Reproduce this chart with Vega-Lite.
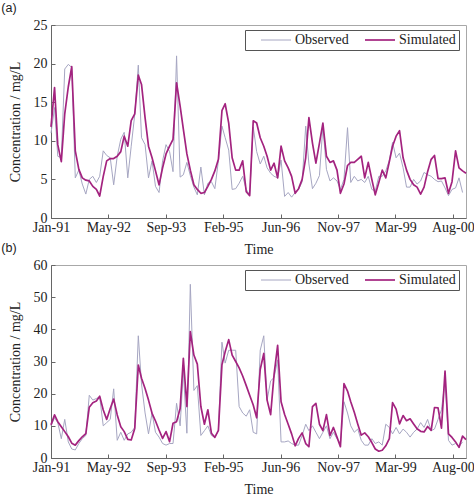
{
"$schema": "https://vega.github.io/schema/vega-lite/v6.json",
"background": "white",
"padding": {"left": 0, "top": 1, "right": 0, "bottom": 0},
"spacing": -16,
"config": {
  "font": "Liberation Serif",
  "view": {"stroke": "#a8a8a8", "strokeWidth": 1},
  "axis": {"labelFont": "Liberation Serif", "labelFontSize": 14, "labelColor": "#222", "titleFont": "Liberation Serif", "titleFontSize": 14, "titleFontWeight": "normal", "titleColor": "#222", "domainColor": "#666", "tickColor": "#666", "tickSize": -4, "grid": false, "labelFlush": false, "labelOverlap": false},
  "axisX": {"labelPadding": 6, "titlePadding": 8},
  "axisY": {"labelPadding": 8, "titlePadding": 10.7},
  "legend": {"orient": "none", "legendX": 194, "legendY": 5, "direction": "horizontal", "strokeColor": "#555", "fillColor": "white", "padding": 3, "symbolType": "M1,0H6", "symbolSize": 144, "symbolStrokeWidth": 1.6, "labelFont": "Liberation Serif", "labelFontSize": 14, "labelColor": "#222", "labelOffset": 33, "columnPadding": 3, "title": null},
  "title": {"font": "Liberation Sans", "fontSize": 12.5, "fontWeight": "normal", "anchor": "start", "offset": 3.5, "dx": -7, "color": "#222"}
},
"datasets": {
"a": [
{"d":"1991-01-01","s":"Observed","v":11},{"d":"1991-02-01","s":"Observed","v":14.3},{"d":"1991-03-01","s":"Observed","v":8},{"d":"1991-04-01","s":"Observed","v":7.8},{"d":"1991-05-01","s":"Observed","v":19.3},{"d":"1991-06-01","s":"Observed","v":19.9},{"d":"1991-07-01","s":"Observed","v":19.5},{"d":"1991-08-01","s":"Observed","v":5.2},{"d":"1991-09-01","s":"Observed","v":6.2},{"d":"1991-10-01","s":"Observed","v":4.4},{"d":"1991-11-01","s":"Observed","v":3.1},{"d":"1991-12-01","s":"Observed","v":5},
{"d":"1992-01-01","s":"Observed","v":5.4},{"d":"1992-02-01","s":"Observed","v":4.6},{"d":"1992-03-01","s":"Observed","v":5.4},{"d":"1992-04-01","s":"Observed","v":8.7},{"d":"1992-05-01","s":"Observed","v":8.1},{"d":"1992-06-01","s":"Observed","v":7.8},{"d":"1992-07-01","s":"Observed","v":4.3},{"d":"1992-08-01","s":"Observed","v":8},{"d":"1992-09-01","s":"Observed","v":10.2},{"d":"1992-10-01","s":"Observed","v":11.1},{"d":"1992-11-01","s":"Observed","v":5.2},{"d":"1992-12-01","s":"Observed","v":9.3},
{"d":"1993-01-01","s":"Observed","v":13.4},{"d":"1993-02-01","s":"Observed","v":19.8},{"d":"1993-03-01","s":"Observed","v":10.4},{"d":"1993-04-01","s":"Observed","v":9.5},{"d":"1993-05-01","s":"Observed","v":5.2},{"d":"1993-06-01","s":"Observed","v":7.4},{"d":"1993-07-01","s":"Observed","v":4.1},{"d":"1993-08-01","s":"Observed","v":3.3},{"d":"1993-09-01","s":"Observed","v":7.4},{"d":"1993-10-01","s":"Observed","v":9.5},{"d":"1993-11-01","s":"Observed","v":8.6},{"d":"1993-12-01","s":"Observed","v":6},
{"d":"1994-01-01","s":"Observed","v":21},{"d":"1994-02-01","s":"Observed","v":5.3},{"d":"1994-03-01","s":"Observed","v":5.6},{"d":"1994-04-01","s":"Observed","v":7.2},{"d":"1994-05-01","s":"Observed","v":5.5},{"d":"1994-06-01","s":"Observed","v":4},{"d":"1994-07-01","s":"Observed","v":3},{"d":"1994-08-01","s":"Observed","v":6.6},{"d":"1994-09-01","s":"Observed","v":3},{"d":"1994-10-01","s":"Observed","v":4.5},{"d":"1994-11-01","s":"Observed","v":4.7},{"d":"1994-12-01","s":"Observed","v":3.8},
{"d":"1995-01-01","s":"Observed","v":7.4},{"d":"1995-02-01","s":"Observed","v":11.9},{"d":"1995-03-01","s":"Observed","v":10.4},{"d":"1995-04-01","s":"Observed","v":8.8},{"d":"1995-05-01","s":"Observed","v":3.7},{"d":"1995-06-01","s":"Observed","v":3.8},{"d":"1995-07-01","s":"Observed","v":4.5},{"d":"1995-08-01","s":"Observed","v":5.4},{"d":"1995-09-01","s":"Observed","v":3.7},{"d":"1995-10-01","s":"Observed","v":3},{"d":"1995-11-01","s":"Observed","v":11.8},{"d":"1995-12-01","s":"Observed","v":8.6},
{"d":"1996-01-01","s":"Observed","v":7},{"d":"1996-02-01","s":"Observed","v":8},{"d":"1996-03-01","s":"Observed","v":6.5},{"d":"1996-04-01","s":"Observed","v":5.8},{"d":"1996-05-01","s":"Observed","v":5.4},{"d":"1996-06-01","s":"Observed","v":5.2},{"d":"1996-07-01","s":"Observed","v":7.5},{"d":"1996-08-01","s":"Observed","v":2.8},{"d":"1996-09-01","s":"Observed","v":3.3},{"d":"1996-10-01","s":"Observed","v":2.7},{"d":"1996-11-01","s":"Observed","v":3.3},{"d":"1996-12-01","s":"Observed","v":3.7},
{"d":"1997-01-01","s":"Observed","v":4.7},{"d":"1997-02-01","s":"Observed","v":11.9},{"d":"1997-03-01","s":"Observed","v":7},{"d":"1997-04-01","s":"Observed","v":3.8},{"d":"1997-05-01","s":"Observed","v":4.5},{"d":"1997-06-01","s":"Observed","v":5.5},{"d":"1997-07-01","s":"Observed","v":11.9},{"d":"1997-08-01","s":"Observed","v":6.3},{"d":"1997-09-01","s":"Observed","v":4.8},{"d":"1997-10-01","s":"Observed","v":5.2},{"d":"1997-11-01","s":"Observed","v":4.8},{"d":"1997-12-01","s":"Observed","v":3.7},
{"d":"1998-01-01","s":"Observed","v":5},{"d":"1998-02-01","s":"Observed","v":11.7},{"d":"1998-03-01","s":"Observed","v":4.6},{"d":"1998-04-01","s":"Observed","v":5.4},{"d":"1998-05-01","s":"Observed","v":4.8},{"d":"1998-06-01","s":"Observed","v":5},{"d":"1998-07-01","s":"Observed","v":4.6},{"d":"1998-08-01","s":"Observed","v":5.4},{"d":"1998-09-01","s":"Observed","v":3.7},{"d":"1998-10-01","s":"Observed","v":3.5},{"d":"1998-11-01","s":"Observed","v":5.4},{"d":"1998-12-01","s":"Observed","v":5.4},
{"d":"1999-01-01","s":"Observed","v":6.1},{"d":"1999-02-01","s":"Observed","v":7.5},{"d":"1999-03-01","s":"Observed","v":9.8},{"d":"1999-04-01","s":"Observed","v":7.8},{"d":"1999-05-01","s":"Observed","v":8.4},{"d":"1999-06-01","s":"Observed","v":6.5},{"d":"1999-07-01","s":"Observed","v":4},{"d":"1999-08-01","s":"Observed","v":4},{"d":"1999-09-01","s":"Observed","v":5},{"d":"1999-10-01","s":"Observed","v":4.4},{"d":"1999-11-01","s":"Observed","v":4.8},{"d":"1999-12-01","s":"Observed","v":5.9},
{"d":"2000-01-01","s":"Observed","v":5.6},{"d":"2000-02-01","s":"Observed","v":5.4},{"d":"2000-03-01","s":"Observed","v":5},{"d":"2000-04-01","s":"Observed","v":4.7},{"d":"2000-05-01","s":"Observed","v":4.8},{"d":"2000-06-01","s":"Observed","v":3.9},{"d":"2000-07-01","s":"Observed","v":2.9},{"d":"2000-08-01","s":"Observed","v":3.7},{"d":"2000-09-01","s":"Observed","v":3.9},{"d":"2000-10-01","s":"Observed","v":5.2},{"d":"2000-11-01","s":"Observed","v":3.3},
{"d":"1991-01-01","s":"Simulated","v":11.8},{"d":"1991-02-01","s":"Simulated","v":16.9},{"d":"1991-03-01","s":"Simulated","v":9.5},{"d":"1991-04-01","s":"Simulated","v":7.3},{"d":"1991-05-01","s":"Simulated","v":13.5},{"d":"1991-06-01","s":"Simulated","v":17},{"d":"1991-07-01","s":"Simulated","v":19.6},{"d":"1991-08-01","s":"Simulated","v":8.7},{"d":"1991-09-01","s":"Simulated","v":6.3},{"d":"1991-10-01","s":"Simulated","v":5.2},{"d":"1991-11-01","s":"Simulated","v":4.9},{"d":"1991-12-01","s":"Simulated","v":4.8},
{"d":"1992-01-01","s":"Simulated","v":4.1},{"d":"1992-02-01","s":"Simulated","v":3.7},{"d":"1992-03-01","s":"Simulated","v":2.85},{"d":"1992-04-01","s":"Simulated","v":5.4},{"d":"1992-05-01","s":"Simulated","v":7.4},{"d":"1992-06-01","s":"Simulated","v":7.7},{"d":"1992-07-01","s":"Simulated","v":7.7},{"d":"1992-08-01","s":"Simulated","v":8},{"d":"1992-09-01","s":"Simulated","v":8.6},{"d":"1992-10-01","s":"Simulated","v":10.6},{"d":"1992-11-01","s":"Simulated","v":9.3},{"d":"1992-12-01","s":"Simulated","v":12.6},
{"d":"1993-01-01","s":"Simulated","v":13.5},{"d":"1993-02-01","s":"Simulated","v":18.5},{"d":"1993-03-01","s":"Simulated","v":17.3},{"d":"1993-04-01","s":"Simulated","v":13},{"d":"1993-05-01","s":"Simulated","v":9.3},{"d":"1993-06-01","s":"Simulated","v":7.8},{"d":"1993-07-01","s":"Simulated","v":6.1},{"d":"1993-08-01","s":"Simulated","v":4.3},{"d":"1993-09-01","s":"Simulated","v":6.5},{"d":"1993-10-01","s":"Simulated","v":8.3},{"d":"1993-11-01","s":"Simulated","v":9.3},{"d":"1993-12-01","s":"Simulated","v":10.2},
{"d":"1994-01-01","s":"Simulated","v":17.5},{"d":"1994-02-01","s":"Simulated","v":14.5},{"d":"1994-03-01","s":"Simulated","v":11.5},{"d":"1994-04-01","s":"Simulated","v":8.3},{"d":"1994-05-01","s":"Simulated","v":6.2},{"d":"1994-06-01","s":"Simulated","v":4.3},{"d":"1994-07-01","s":"Simulated","v":3.7},{"d":"1994-08-01","s":"Simulated","v":3.2},{"d":"1994-09-01","s":"Simulated","v":3.3},{"d":"1994-10-01","s":"Simulated","v":4.1},{"d":"1994-11-01","s":"Simulated","v":5},{"d":"1994-12-01","s":"Simulated","v":6.1},
{"d":"1995-01-01","s":"Simulated","v":7.6},{"d":"1995-02-01","s":"Simulated","v":13.9},{"d":"1995-03-01","s":"Simulated","v":14.8},{"d":"1995-04-01","s":"Simulated","v":12.3},{"d":"1995-05-01","s":"Simulated","v":7.8},{"d":"1995-06-01","s":"Simulated","v":6.2},{"d":"1995-07-01","s":"Simulated","v":6.2},{"d":"1995-08-01","s":"Simulated","v":7.4},{"d":"1995-09-01","s":"Simulated","v":3.4},{"d":"1995-10-01","s":"Simulated","v":2.9},{"d":"1995-11-01","s":"Simulated","v":12.6},{"d":"1995-12-01","s":"Simulated","v":12.3},
{"d":"1996-01-01","s":"Simulated","v":10.4},{"d":"1996-02-01","s":"Simulated","v":9.3},{"d":"1996-03-01","s":"Simulated","v":8},{"d":"1996-04-01","s":"Simulated","v":6.2},{"d":"1996-05-01","s":"Simulated","v":7.1},{"d":"1996-06-01","s":"Simulated","v":5.2},{"d":"1996-07-01","s":"Simulated","v":9.3},{"d":"1996-08-01","s":"Simulated","v":7.4},{"d":"1996-09-01","s":"Simulated","v":6.5},{"d":"1996-10-01","s":"Simulated","v":5.4},{"d":"1996-11-01","s":"Simulated","v":3.2},{"d":"1996-12-01","s":"Simulated","v":3.8},
{"d":"1997-01-01","s":"Simulated","v":5},{"d":"1997-02-01","s":"Simulated","v":7.8},{"d":"1997-03-01","s":"Simulated","v":13},{"d":"1997-04-01","s":"Simulated","v":9.7},{"d":"1997-05-01","s":"Simulated","v":7.1},{"d":"1997-06-01","s":"Simulated","v":9.7},{"d":"1997-07-01","s":"Simulated","v":12.3},{"d":"1997-08-01","s":"Simulated","v":8},{"d":"1997-09-01","s":"Simulated","v":7.2},{"d":"1997-10-01","s":"Simulated","v":7.4},{"d":"1997-11-01","s":"Simulated","v":6.2},{"d":"1997-12-01","s":"Simulated","v":3.2},
{"d":"1998-01-01","s":"Simulated","v":4.4},{"d":"1998-02-01","s":"Simulated","v":6.8},{"d":"1998-03-01","s":"Simulated","v":7.2},{"d":"1998-04-01","s":"Simulated","v":7.2},{"d":"1998-05-01","s":"Simulated","v":7.6},{"d":"1998-06-01","s":"Simulated","v":8},{"d":"1998-07-01","s":"Simulated","v":5.2},{"d":"1998-08-01","s":"Simulated","v":7.2},{"d":"1998-09-01","s":"Simulated","v":5},{"d":"1998-10-01","s":"Simulated","v":3},{"d":"1998-11-01","s":"Simulated","v":4.6},{"d":"1998-12-01","s":"Simulated","v":6.2},
{"d":"1999-01-01","s":"Simulated","v":5.2},{"d":"1999-02-01","s":"Simulated","v":7.3},{"d":"1999-03-01","s":"Simulated","v":9.3},{"d":"1999-04-01","s":"Simulated","v":10.6},{"d":"1999-05-01","s":"Simulated","v":11.3},{"d":"1999-06-01","s":"Simulated","v":7.8},{"d":"1999-07-01","s":"Simulated","v":6.2},{"d":"1999-08-01","s":"Simulated","v":5},{"d":"1999-09-01","s":"Simulated","v":4.3},{"d":"1999-10-01","s":"Simulated","v":4},{"d":"1999-11-01","s":"Simulated","v":3.1},{"d":"1999-12-01","s":"Simulated","v":4},
{"d":"2000-01-01","s":"Simulated","v":6},{"d":"2000-02-01","s":"Simulated","v":7.6},{"d":"2000-03-01","s":"Simulated","v":8.1},{"d":"2000-04-01","s":"Simulated","v":5.1},{"d":"2000-05-01","s":"Simulated","v":5.1},{"d":"2000-06-01","s":"Simulated","v":5.2},{"d":"2000-07-01","s":"Simulated","v":3.2},{"d":"2000-08-01","s":"Simulated","v":4.7},{"d":"2000-09-01","s":"Simulated","v":8.7},{"d":"2000-10-01","s":"Simulated","v":6.5},{"d":"2000-11-01","s":"Simulated","v":6.1},{"d":"2000-12-01","s":"Simulated","v":5.8}
],
"b": [
{"d":"1991-01-01","s":"Observed","v":10},{"d":"1991-02-01","s":"Observed","v":12.5},{"d":"1991-03-01","s":"Observed","v":11},{"d":"1991-04-01","s":"Observed","v":6},{"d":"1991-05-01","s":"Observed","v":12},{"d":"1991-06-01","s":"Observed","v":5},{"d":"1991-07-01","s":"Observed","v":2.8},{"d":"1991-08-01","s":"Observed","v":2.5},{"d":"1991-09-01","s":"Observed","v":4.5},{"d":"1991-10-01","s":"Observed","v":6},{"d":"1991-11-01","s":"Observed","v":7},{"d":"1991-12-01","s":"Observed","v":19.5},
{"d":"1992-01-01","s":"Observed","v":18},{"d":"1992-02-01","s":"Observed","v":18.5},{"d":"1992-03-01","s":"Observed","v":19},{"d":"1992-04-01","s":"Observed","v":10},{"d":"1992-05-01","s":"Observed","v":11},{"d":"1992-06-01","s":"Observed","v":12},{"d":"1992-07-01","s":"Observed","v":21.5},{"d":"1992-08-01","s":"Observed","v":5.5},{"d":"1992-09-01","s":"Observed","v":8},{"d":"1992-10-01","s":"Observed","v":5.5},{"d":"1992-11-01","s":"Observed","v":7.5},{"d":"1992-12-01","s":"Observed","v":8},
{"d":"1993-01-01","s":"Observed","v":9.5},{"d":"1993-02-01","s":"Observed","v":38},{"d":"1993-03-01","s":"Observed","v":23},{"d":"1993-04-01","s":"Observed","v":14},{"d":"1993-05-01","s":"Observed","v":7.5},{"d":"1993-06-01","s":"Observed","v":14},{"d":"1993-07-01","s":"Observed","v":8},{"d":"1993-08-01","s":"Observed","v":6.5},{"d":"1993-09-01","s":"Observed","v":4.5},{"d":"1993-10-01","s":"Observed","v":4},{"d":"1993-11-01","s":"Observed","v":4.5},{"d":"1993-12-01","s":"Observed","v":4.5},
{"d":"1994-01-01","s":"Observed","v":17},{"d":"1994-02-01","s":"Observed","v":10},{"d":"1994-03-01","s":"Observed","v":27},{"d":"1994-04-01","s":"Observed","v":7.7},{"d":"1994-05-01","s":"Observed","v":54},{"d":"1994-06-01","s":"Observed","v":21},{"d":"1994-07-01","s":"Observed","v":22.5},{"d":"1994-08-01","s":"Observed","v":7},{"d":"1994-09-01","s":"Observed","v":8.5},{"d":"1994-10-01","s":"Observed","v":10},{"d":"1994-11-01","s":"Observed","v":7},{"d":"1994-12-01","s":"Observed","v":6.5},
{"d":"1995-01-01","s":"Observed","v":8.5},{"d":"1995-02-01","s":"Observed","v":36},{"d":"1995-03-01","s":"Observed","v":29.5},{"d":"1995-04-01","s":"Observed","v":33.5},{"d":"1995-05-01","s":"Observed","v":33.5},{"d":"1995-06-01","s":"Observed","v":33.5},{"d":"1995-07-01","s":"Observed","v":16},{"d":"1995-08-01","s":"Observed","v":14},{"d":"1995-09-01","s":"Observed","v":13},{"d":"1995-10-01","s":"Observed","v":15},{"d":"1995-11-01","s":"Observed","v":8},{"d":"1995-12-01","s":"Observed","v":7.5},
{"d":"1996-01-01","s":"Observed","v":33.5},{"d":"1996-02-01","s":"Observed","v":38},{"d":"1996-03-01","s":"Observed","v":18},{"d":"1996-04-01","s":"Observed","v":24},{"d":"1996-05-01","s":"Observed","v":25},{"d":"1996-06-01","s":"Observed","v":30.5},{"d":"1996-07-01","s":"Observed","v":5},{"d":"1996-08-01","s":"Observed","v":5},{"d":"1996-09-01","s":"Observed","v":5.3},{"d":"1996-10-01","s":"Observed","v":4.5},{"d":"1996-11-01","s":"Observed","v":4},{"d":"1996-12-01","s":"Observed","v":4},
{"d":"1997-01-01","s":"Observed","v":7},{"d":"1997-02-01","s":"Observed","v":10.5},{"d":"1997-03-01","s":"Observed","v":8.5},{"d":"1997-04-01","s":"Observed","v":10},{"d":"1997-05-01","s":"Observed","v":8},{"d":"1997-06-01","s":"Observed","v":6},{"d":"1997-07-01","s":"Observed","v":8},{"d":"1997-08-01","s":"Observed","v":10},{"d":"1997-09-01","s":"Observed","v":6},{"d":"1997-10-01","s":"Observed","v":8},{"d":"1997-11-01","s":"Observed","v":6},{"d":"1997-12-01","s":"Observed","v":4.5},
{"d":"1998-01-01","s":"Observed","v":17.5},{"d":"1998-02-01","s":"Observed","v":14},{"d":"1998-03-01","s":"Observed","v":10},{"d":"1998-04-01","s":"Observed","v":8},{"d":"1998-05-01","s":"Observed","v":9},{"d":"1998-06-01","s":"Observed","v":5.5},{"d":"1998-07-01","s":"Observed","v":4},{"d":"1998-08-01","s":"Observed","v":4},{"d":"1998-09-01","s":"Observed","v":6},{"d":"1998-10-01","s":"Observed","v":4.5},{"d":"1998-11-01","s":"Observed","v":5},{"d":"1998-12-01","s":"Observed","v":4},
{"d":"1999-01-01","s":"Observed","v":10.5},{"d":"1999-02-01","s":"Observed","v":9.5},{"d":"1999-03-01","s":"Observed","v":7.5},{"d":"1999-04-01","s":"Observed","v":9.5},{"d":"1999-05-01","s":"Observed","v":7.5},{"d":"1999-06-01","s":"Observed","v":9},{"d":"1999-07-01","s":"Observed","v":8},{"d":"1999-08-01","s":"Observed","v":6.5},{"d":"1999-09-01","s":"Observed","v":8},{"d":"1999-10-01","s":"Observed","v":9},{"d":"1999-11-01","s":"Observed","v":11},{"d":"1999-12-01","s":"Observed","v":9.5},
{"d":"2000-01-01","s":"Observed","v":12},{"d":"2000-02-01","s":"Observed","v":8.5},{"d":"2000-03-01","s":"Observed","v":9},{"d":"2000-04-01","s":"Observed","v":12},{"d":"2000-05-01","s":"Observed","v":15},{"d":"2000-06-01","s":"Observed","v":24},{"d":"2000-07-01","s":"Observed","v":5.5},{"d":"2000-08-01","s":"Observed","v":4},{"d":"2000-09-01","s":"Observed","v":4.5},{"d":"2000-10-01","s":"Observed","v":3.5},{"d":"2000-11-01","s":"Observed","v":5},
{"d":"1991-01-01","s":"Simulated","v":10.3},{"d":"1991-02-01","s":"Simulated","v":13.4},{"d":"1991-03-01","s":"Simulated","v":11.3},{"d":"1991-04-01","s":"Simulated","v":9.7},{"d":"1991-05-01","s":"Simulated","v":8.2},{"d":"1991-06-01","s":"Simulated","v":6.6},{"d":"1991-07-01","s":"Simulated","v":4.6},{"d":"1991-08-01","s":"Simulated","v":4},{"d":"1991-09-01","s":"Simulated","v":5.4},{"d":"1991-10-01","s":"Simulated","v":6.6},{"d":"1991-11-01","s":"Simulated","v":7.6},{"d":"1991-12-01","s":"Simulated","v":15.8},
{"d":"1992-01-01","s":"Simulated","v":17.2},{"d":"1992-02-01","s":"Simulated","v":17.7},{"d":"1992-03-01","s":"Simulated","v":19.2},{"d":"1992-04-01","s":"Simulated","v":14.9},{"d":"1992-05-01","s":"Simulated","v":12},{"d":"1992-06-01","s":"Simulated","v":15.4},{"d":"1992-07-01","s":"Simulated","v":18.3},{"d":"1992-08-01","s":"Simulated","v":13.4},{"d":"1992-09-01","s":"Simulated","v":9.7},{"d":"1992-10-01","s":"Simulated","v":8.2},{"d":"1992-11-01","s":"Simulated","v":5.8},{"d":"1992-12-01","s":"Simulated","v":5.6},
{"d":"1993-01-01","s":"Simulated","v":9.2},{"d":"1993-02-01","s":"Simulated","v":28.9},{"d":"1993-03-01","s":"Simulated","v":24.8},{"d":"1993-04-01","s":"Simulated","v":21.6},{"d":"1993-05-01","s":"Simulated","v":18},{"d":"1993-06-01","s":"Simulated","v":13.9},{"d":"1993-07-01","s":"Simulated","v":11.5},{"d":"1993-08-01","s":"Simulated","v":8.7},{"d":"1993-09-01","s":"Simulated","v":6.1},{"d":"1993-10-01","s":"Simulated","v":8.2},{"d":"1993-11-01","s":"Simulated","v":5.1},{"d":"1993-12-01","s":"Simulated","v":10.8},
{"d":"1994-01-01","s":"Simulated","v":11.3},{"d":"1994-02-01","s":"Simulated","v":15.4},{"d":"1994-03-01","s":"Simulated","v":31},{"d":"1994-04-01","s":"Simulated","v":16},{"d":"1994-05-01","s":"Simulated","v":39.3},{"d":"1994-06-01","s":"Simulated","v":32},{"d":"1994-07-01","s":"Simulated","v":29.2},{"d":"1994-08-01","s":"Simulated","v":16},{"d":"1994-09-01","s":"Simulated","v":10.5},{"d":"1994-10-01","s":"Simulated","v":15},{"d":"1994-11-01","s":"Simulated","v":7.7},{"d":"1994-12-01","s":"Simulated","v":6.4},
{"d":"1995-01-01","s":"Simulated","v":8.6},{"d":"1995-02-01","s":"Simulated","v":29},{"d":"1995-03-01","s":"Simulated","v":33},{"d":"1995-04-01","s":"Simulated","v":36.8},{"d":"1995-05-01","s":"Simulated","v":32},{"d":"1995-06-01","s":"Simulated","v":30},{"d":"1995-07-01","s":"Simulated","v":28},{"d":"1995-08-01","s":"Simulated","v":25.5},{"d":"1995-09-01","s":"Simulated","v":22.5},{"d":"1995-10-01","s":"Simulated","v":19.5},{"d":"1995-11-01","s":"Simulated","v":16.5},{"d":"1995-12-01","s":"Simulated","v":12.5},
{"d":"1996-01-01","s":"Simulated","v":27.5},{"d":"1996-02-01","s":"Simulated","v":32.5},{"d":"1996-03-01","s":"Simulated","v":18},{"d":"1996-04-01","s":"Simulated","v":13.5},{"d":"1996-05-01","s":"Simulated","v":26},{"d":"1996-06-01","s":"Simulated","v":35},{"d":"1996-07-01","s":"Simulated","v":17.5},{"d":"1996-08-01","s":"Simulated","v":13.5},{"d":"1996-09-01","s":"Simulated","v":10.5},{"d":"1996-10-01","s":"Simulated","v":7.5},{"d":"1996-11-01","s":"Simulated","v":3.8},{"d":"1996-12-01","s":"Simulated","v":6.1},
{"d":"1997-01-01","s":"Simulated","v":7.8},{"d":"1997-02-01","s":"Simulated","v":4.5},{"d":"1997-03-01","s":"Simulated","v":3.5},{"d":"1997-04-01","s":"Simulated","v":16},{"d":"1997-05-01","s":"Simulated","v":17},{"d":"1997-06-01","s":"Simulated","v":10.5},{"d":"1997-07-01","s":"Simulated","v":8.5},{"d":"1997-08-01","s":"Simulated","v":13.5},{"d":"1997-09-01","s":"Simulated","v":7},{"d":"1997-10-01","s":"Simulated","v":9.5},{"d":"1997-11-01","s":"Simulated","v":6.5},{"d":"1997-12-01","s":"Simulated","v":3.5},
{"d":"1998-01-01","s":"Simulated","v":23.1},{"d":"1998-02-01","s":"Simulated","v":20.8},{"d":"1998-03-01","s":"Simulated","v":17.5},{"d":"1998-04-01","s":"Simulated","v":14.2},{"d":"1998-05-01","s":"Simulated","v":10.6},{"d":"1998-06-01","s":"Simulated","v":7.1},{"d":"1998-07-01","s":"Simulated","v":7.8},{"d":"1998-08-01","s":"Simulated","v":6.6},{"d":"1998-09-01","s":"Simulated","v":4.8},{"d":"1998-10-01","s":"Simulated","v":2.8},{"d":"1998-11-01","s":"Simulated","v":2.1},{"d":"1998-12-01","s":"Simulated","v":2.4},
{"d":"1999-01-01","s":"Simulated","v":3.8},{"d":"1999-02-01","s":"Simulated","v":6},{"d":"1999-03-01","s":"Simulated","v":17.2},{"d":"1999-04-01","s":"Simulated","v":15.2},{"d":"1999-05-01","s":"Simulated","v":10.6},{"d":"1999-06-01","s":"Simulated","v":13.2},{"d":"1999-07-01","s":"Simulated","v":11.6},{"d":"1999-08-01","s":"Simulated","v":12.2},{"d":"1999-09-01","s":"Simulated","v":10.6},{"d":"1999-10-01","s":"Simulated","v":9.1},{"d":"1999-11-01","s":"Simulated","v":8.3},{"d":"1999-12-01","s":"Simulated","v":8.1},
{"d":"2000-01-01","s":"Simulated","v":9.8},{"d":"2000-02-01","s":"Simulated","v":8.6},{"d":"2000-03-01","s":"Simulated","v":15.7},{"d":"2000-04-01","s":"Simulated","v":15.6},{"d":"2000-05-01","s":"Simulated","v":9.3},{"d":"2000-06-01","s":"Simulated","v":27},{"d":"2000-07-01","s":"Simulated","v":7.5},{"d":"2000-08-01","s":"Simulated","v":6.4},{"d":"2000-09-01","s":"Simulated","v":5},{"d":"2000-10-01","s":"Simulated","v":3.3},{"d":"2000-11-01","s":"Simulated","v":6.8},{"d":"2000-12-01","s":"Simulated","v":5.7}
]
},
"resolve": {"scale": {"color": "independent", "strokeWidth": "independent"}, "legend": {"color": "independent"}},
"vconcat": [
{
  "title": {"text": "(a)"},
  "width": 415, "height": 193,
  "data": {"name": "a"},
  "mark": {"type": "line", "strokeJoin": "round"},
  "encoding": {
    "x": {"field": "d", "type": "temporal",
      "scale": {"type": "utc", "domain": [{"year": 1991, "month": 1, "date": 1, "utc": true}, {"year": 2000, "month": 12, "date": 1, "utc": true}]},
      "axis": {"title": "Time", "format": "%b-%y", "values": [
        {"year": 1991, "month": 1, "date": 1, "utc": true}, {"year": 1992, "month": 5, "date": 16, "utc": true}, {"year": 1993, "month": 9, "date": 29, "utc": true}, {"year": 1995, "month": 2, "date": 12, "utc": true}, {"year": 1996, "month": 6, "date": 27, "utc": true}, {"year": 1997, "month": 11, "date": 10, "utc": true}, {"year": 1999, "month": 3, "date": 26, "utc": true}, {"year": 2000, "month": 8, "date": 8, "utc": true}]}},
    "y": {"field": "v", "type": "quantitative", "scale": {"domain": [0, 25]}, "axis": {"title": "Concentration / mg/L", "values": [0, 5, 10, 15, 20, 25]}},
    "color": {"field": "s", "type": "nominal", "scale": {"domain": ["Observed", "Simulated"], "range": ["#a6a6c2", "#a3237f"]}, "legend": {}},
    "strokeWidth": {"field": "s", "type": "nominal", "scale": {"domain": ["Observed", "Simulated"], "range": [1, 1.7]}, "legend": null}
  }
},
{
  "title": {"text": "(b)"},
  "width": 415, "height": 193,
  "data": {"name": "b"},
  "mark": {"type": "line", "strokeJoin": "round"},
  "encoding": {
    "x": {"field": "d", "type": "temporal",
      "scale": {"type": "utc", "domain": [{"year": 1991, "month": 1, "date": 1, "utc": true}, {"year": 2000, "month": 12, "date": 1, "utc": true}]},
      "axis": {"title": "Time", "format": "%b-%y", "values": [
        {"year": 1991, "month": 1, "date": 1, "utc": true}, {"year": 1992, "month": 5, "date": 16, "utc": true}, {"year": 1993, "month": 9, "date": 29, "utc": true}, {"year": 1995, "month": 2, "date": 12, "utc": true}, {"year": 1996, "month": 6, "date": 27, "utc": true}, {"year": 1997, "month": 11, "date": 10, "utc": true}, {"year": 1999, "month": 3, "date": 26, "utc": true}, {"year": 2000, "month": 8, "date": 8, "utc": true}]}},
    "y": {"field": "v", "type": "quantitative", "scale": {"domain": [0, 60]}, "axis": {"title": "Concentration / mg/L", "values": [0, 10, 20, 30, 40, 50, 60]}},
    "color": {"field": "s", "type": "nominal", "scale": {"domain": ["Observed", "Simulated"], "range": ["#a6a6c2", "#a3237f"]}, "legend": {}},
    "strokeWidth": {"field": "s", "type": "nominal", "scale": {"domain": ["Observed", "Simulated"], "range": [1, 1.7]}, "legend": null}
  }
}
]
}
